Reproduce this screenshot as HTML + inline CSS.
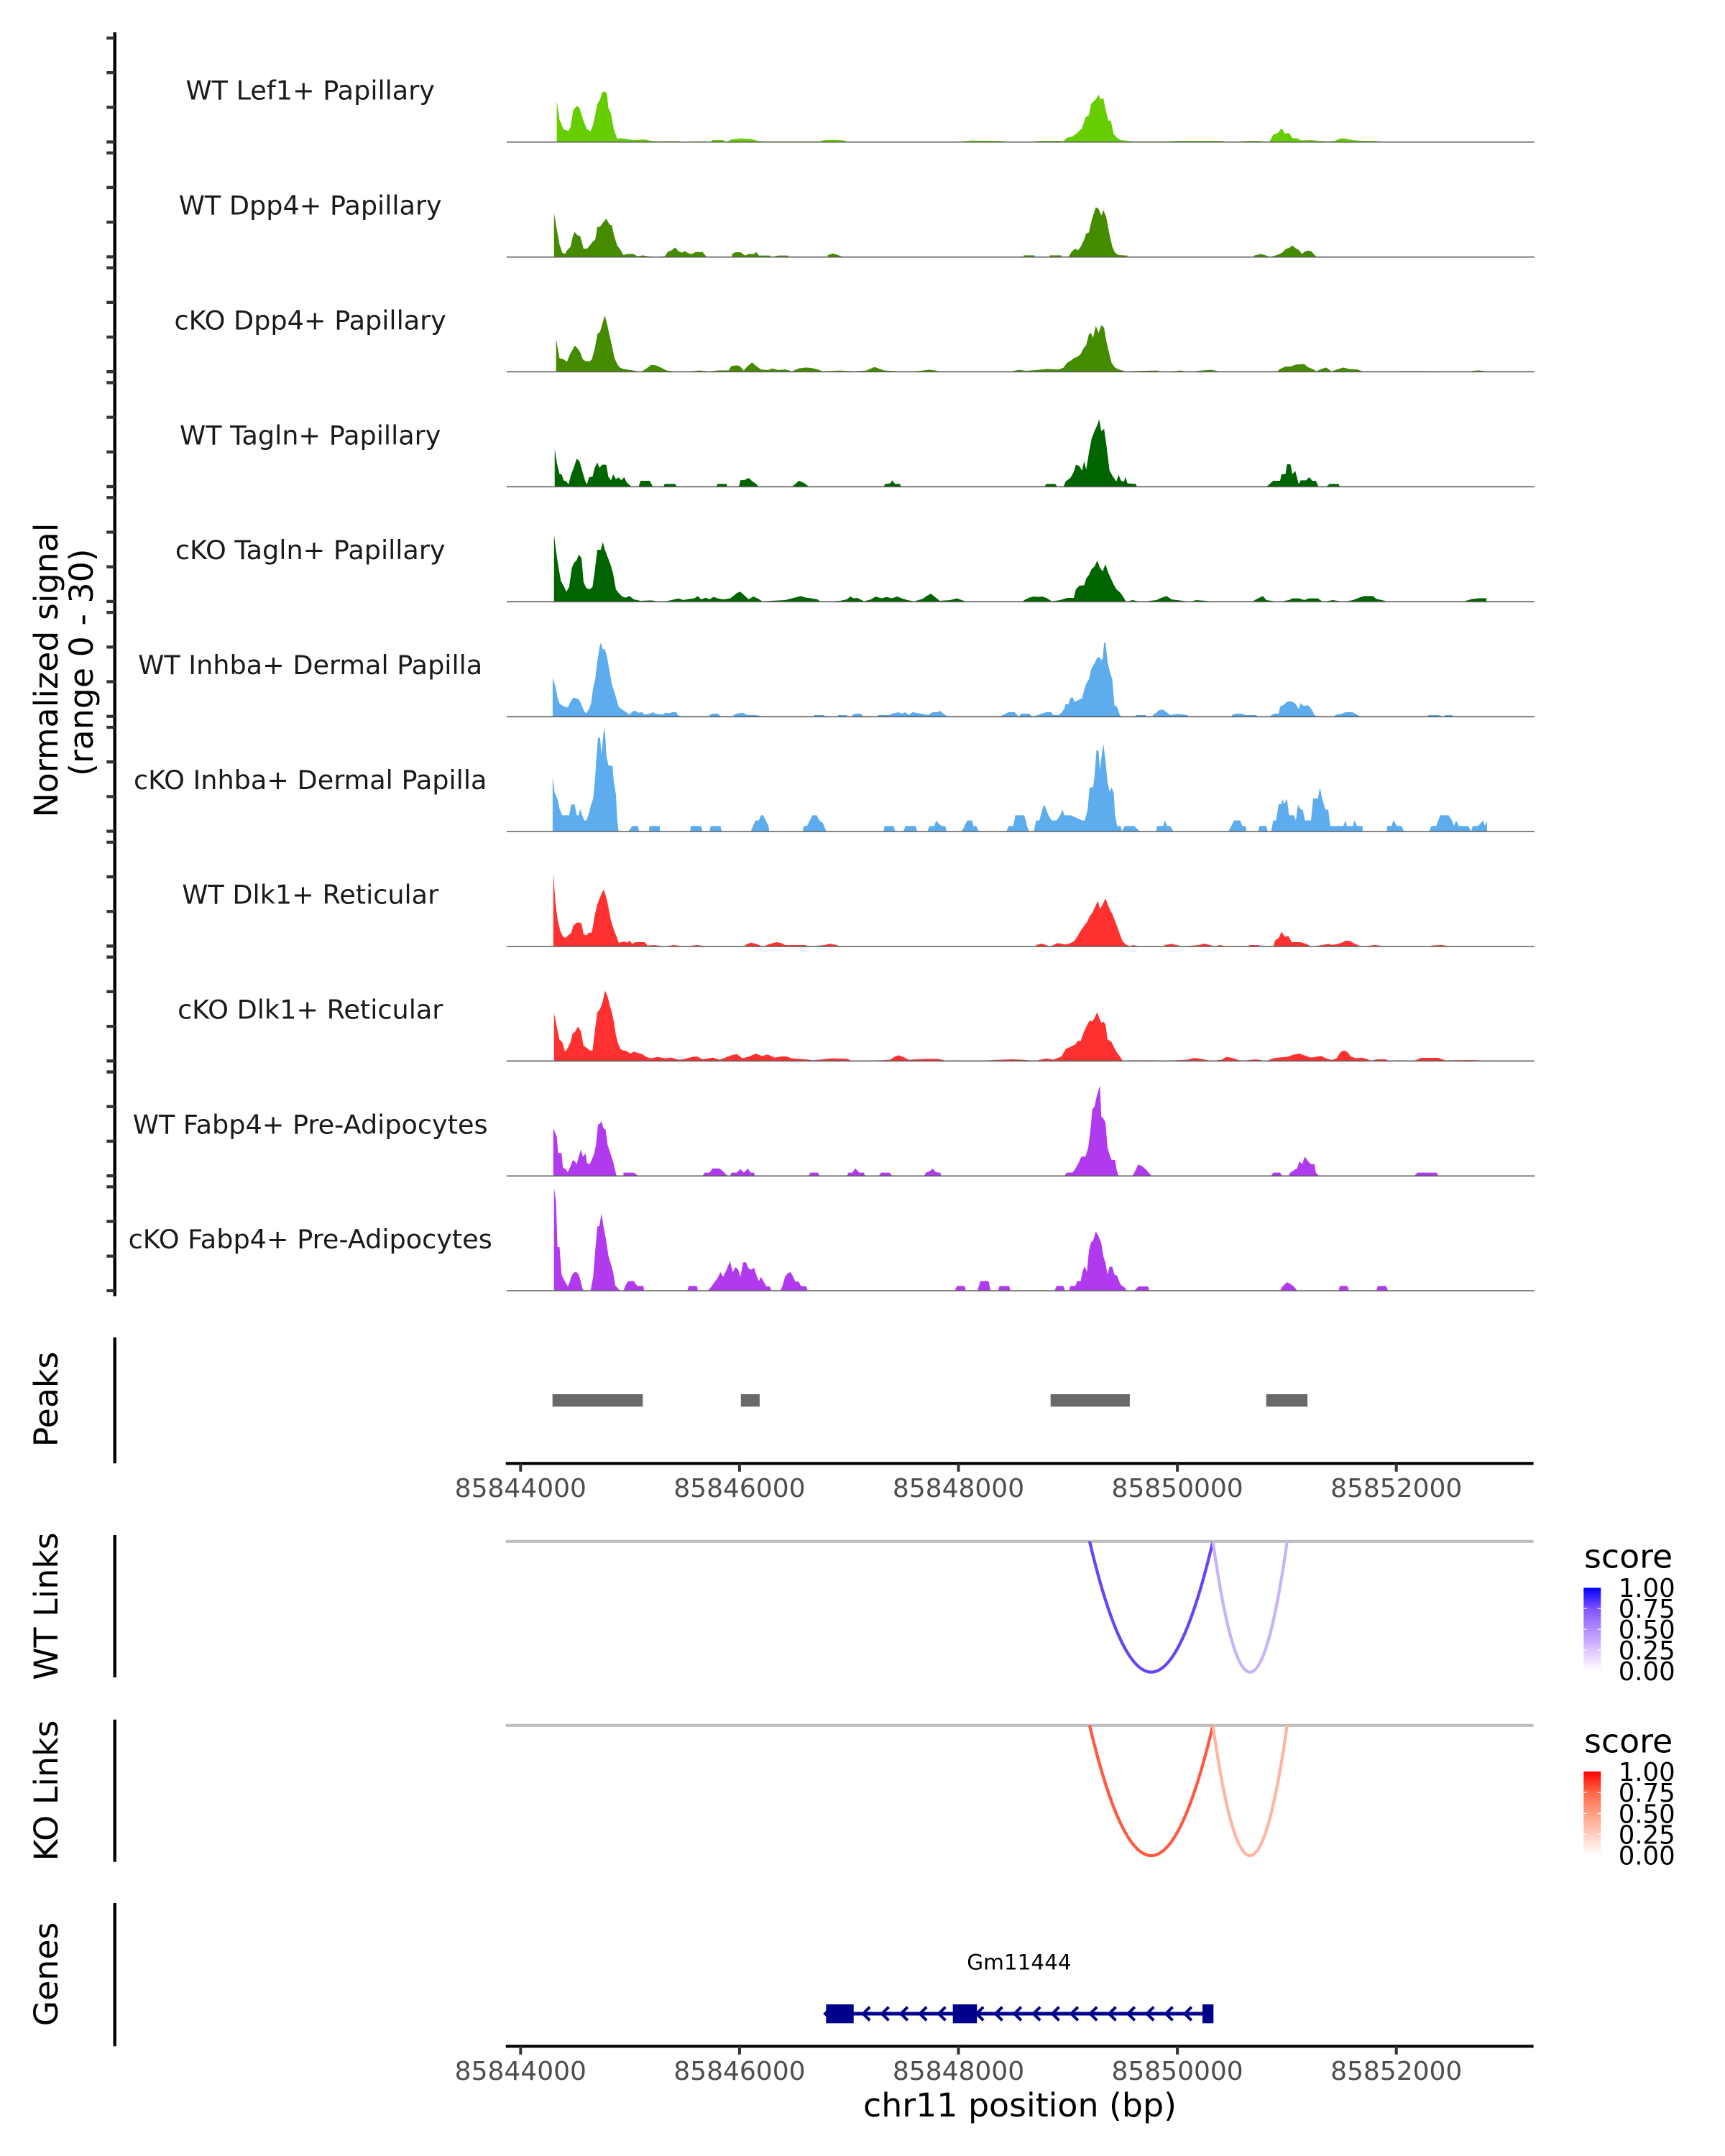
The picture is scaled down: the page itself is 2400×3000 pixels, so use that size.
<!DOCTYPE html>
<html>
<head>
<meta charset="utf-8">
<style>
html,body{margin:0;padding:0;background:#ffffff;}
svg{display:block;}
text{font-family:"DejaVu Sans","Liberation Sans",sans-serif;}
</style>
</head>
<body>
<svg xmlns="http://www.w3.org/2000/svg" width="2400" height="3000" viewBox="0 0 2400 3000">
<defs>
<linearGradient id="gb" x1="0" y1="1" x2="0" y2="0">
<stop offset="0" stop-color="#ffffff"/>
<stop offset="0.25" stop-color="#dcc5ff"/>
<stop offset="0.5" stop-color="#b38aff"/>
<stop offset="0.75" stop-color="#7e52ff"/>
<stop offset="1" stop-color="#0000ff"/>
</linearGradient>
<linearGradient id="gr" x1="0" y1="1" x2="0" y2="0">
<stop offset="0" stop-color="#ffffff"/>
<stop offset="0.25" stop-color="#ffcfbf"/>
<stop offset="0.5" stop-color="#ff9e81"/>
<stop offset="0.75" stop-color="#ff6846"/>
<stop offset="1" stop-color="#ff0000"/>
</linearGradient>
</defs>
<rect x="0" y="0" width="2400" height="3000" fill="#ffffff"/>

<!-- Y axis title -->
<text transform="translate(80,932.5) rotate(-90)" text-anchor="middle" font-size="45.83" fill="#000">Normalized signal</text>
<text transform="translate(129,921.7) rotate(-90)" text-anchor="middle" font-size="45.83" fill="#000">(range 0 - 30)</text>

<!-- main y axis -->
<line x1="159.7" y1="45" x2="159.7" y2="1803.5" stroke="#000" stroke-width="4.4"/>
<path stroke="#333333" stroke-width="4.3" fill="none" d="M148.3,197.5H159.7M148.3,149.3H159.7M148.3,101.1H159.7M148.3,52.9H159.7
M148.3,357.35H159.7M148.3,309.15H159.7M148.3,260.95H159.7M148.3,212.75H159.7
M148.3,517.2H159.7M148.3,469H159.7M148.3,420.8H159.7M148.3,372.6H159.7
M148.3,677.05H159.7M148.3,628.85H159.7M148.3,580.65H159.7M148.3,532.45H159.7
M148.3,836.9H159.7M148.3,788.7H159.7M148.3,740.5H159.7M148.3,692.3H159.7
M148.3,996.75H159.7M148.3,948.55H159.7M148.3,900.35H159.7M148.3,852.15H159.7
M148.3,1156.6H159.7M148.3,1108.4H159.7M148.3,1060.2H159.7M148.3,1012H159.7
M148.3,1316.45H159.7M148.3,1268.25H159.7M148.3,1220.05H159.7M148.3,1171.85H159.7
M148.3,1476.3H159.7M148.3,1428.1H159.7M148.3,1379.9H159.7M148.3,1331.7H159.7
M148.3,1636.15H159.7M148.3,1587.95H159.7M148.3,1539.75H159.7M148.3,1491.55H159.7
M148.3,1796H159.7M148.3,1747.8H159.7M148.3,1699.6H159.7M148.3,1651.4H159.7"/>

<!-- strip labels -->
<g font-size="36.6" fill="#1a1a1a" text-anchor="middle">
<text x="431.7" y="138.7">WT Lef1+ Papillary</text>
<text x="431.7" y="298.55">WT Dpp4+ Papillary</text>
<text x="431.7" y="458.4">cKO Dpp4+ Papillary</text>
<text x="431.7" y="618.25">WT Tagln+ Papillary</text>
<text x="431.7" y="778.1">cKO Tagln+ Papillary</text>
<text x="431.7" y="937.95">WT Inhba+ Dermal Papilla</text>
<text x="431.7" y="1097.8">cKO Inhba+ Dermal Papilla</text>
<text x="431.7" y="1257.65">WT Dlk1+ Reticular</text>
<text x="431.7" y="1417.5">cKO Dlk1+ Reticular</text>
<text x="431.7" y="1577.35">WT Fabp4+ Pre-Adipocytes</text>
<text x="431.7" y="1737.2">cKO Fabp4+ Pre-Adipocytes</text>
</g>

<!-- coverage tracks 1-2 -->
<g transform="matrix(0.95663,0,0,0.333333,700,80)">
<path fill="#66CD00" d="M78,353 78,182 82,260 88,300 95,307 98,290 102,220 107,202 111,210 117,265 122,300 127,308 131,280 137,195 141,175 144,145 148,142 151,150 153,210 157,235 161,300 166,340 170,337 180,340 190,345 205,342 215,348 225,350 240,349 255,349 262,353 275,350 295,350 300,353 305,345 320,345 325,353 332,342 345,338 360,340 370,348 380,350 460,350 465,346 480,344 495,346 500,351 540,351 560,351 580,351 590,353 605,351 625,351 630,353 670,350 680,347 720,348 735,351 770,351 780,348 810,348 815,350 820,335 828,330 835,315 842,295 847,250 852,240 855,195 858,185 862,175 866,155 869,175 873,170 876,215 880,262 884,265 888,320 893,335 898,345 905,347 915,350 950,350 965,350 985,348 1045,348 1055,353 1085,348 1100,348 1112,353 1115,350 1120,322 1127,315 1132,295 1137,318 1143,315 1148,337 1155,337 1160,346 1175,345 1185,348 1200,350 1210,348 1218,338 1225,338 1235,345 1250,348 1265,348 1285,352 1290,353 1355,351 1380,351 1385,353 1405,351 1430,351 1430,353 Z"/>
<path fill="#458B00" d="M74,833 74,650 77,700 82,780 86,815 90,820 93,805 98,790 101,750 104,728 108,742 112,745 117,798 122,798 126,785 130,770 134,760 137,708 141,706 145,690 150,673 155,698 158,700 162,750 166,785 170,800 175,825 180,820 190,820 195,830 203,826 218,833 235,830 240,810 245,805 250,793 255,808 260,815 264,808 270,818 275,820 280,812 290,812 296,833 333,833 333,820 338,813 345,813 352,827 357,820 365,820 368,812 372,827 388,827 390,833 400,827 415,827 415,833 472,833 472,825 480,818 487,825 495,833 757,833 757,826 773,826 773,833 795,833 795,826 812,826 812,833 822,833 827,810 832,798 836,805 840,790 845,760 848,735 852,730 855,690 858,660 862,625 866,632 870,660 873,637 877,665 882,740 886,790 890,815 895,825 908,827 908,833 1092,833 1092,827 1102,820 1110,827 1115,833 1125,825 1133,815 1138,800 1143,795 1148,785 1152,795 1157,803 1162,820 1165,812 1170,806 1175,808 1183,833 Z"/>
</g>

<!-- coverage tracks 3-5 -->
<g transform="matrix(0.95663,0,0,0.333333,700,370)">
<path fill="#458B00" d="M77,442 77,305 82,385 88,390 93,400 97,370 100,355 104,333 108,343 112,360 116,390 120,398 126,398 129,390 133,350 137,285 141,275 145,235 148,207 151,240 154,280 158,330 162,385 166,410 170,425 175,430 190,437 200,442 205,435 210,425 215,413 222,415 230,425 238,437 250,440 265,442 285,437 300,440 315,436 328,436 332,418 340,415 345,420 350,437 355,420 362,403 368,418 375,432 385,435 392,428 400,435 410,432 420,440 430,428 440,424 448,426 455,430 465,440 490,437 510,440 528,437 540,422 548,430 555,437 590,442 610,437 620,433 635,440 680,440 725,440 740,440 750,434 760,438 775,435 790,430 808,432 815,425 820,405 826,395 830,385 835,380 840,368 844,345 848,330 852,285 855,280 858,300 862,250 866,280 870,248 874,258 877,310 881,360 885,405 890,425 896,433 905,440 950,437 965,442 985,437 1000,442 1015,437 1030,434 1045,442 1125,442 1130,430 1138,420 1145,420 1153,412 1165,409 1170,422 1177,430 1183,440 1190,430 1197,424 1205,440 1213,432 1222,424 1230,430 1242,432 1252,442 1305,439 1340,439 1405,440 1418,436 1430,440 1430,442 Z"/>
<path fill="#006400" d="M75,922 75,763 78,820 82,868 85,870 88,895 92,900 95,912 99,870 103,840 107,805 111,815 115,855 119,895 122,912 125,882 130,880 133,845 137,820 140,843 144,830 150,830 153,880 157,895 160,870 164,890 168,883 172,895 176,882 180,905 187,922 197,922 200,897 213,897 218,922 233,922 235,910 250,910 253,922 310,922 312,910 325,910 326,922 343,922 345,895 352,893 357,885 362,898 368,910 372,922 420,922 425,910 430,897 437,905 445,922 553,922 556,910 563,908 566,895 570,910 577,910 579,922 787,922 790,910 803,910 806,922 815,922 818,900 825,885 830,860 833,830 838,835 842,855 845,815 848,850 852,780 856,720 860,690 864,665 867,640 870,690 874,680 877,740 882,855 887,880 892,900 895,872 899,898 903,900 905,880 908,908 920,910 922,922 1110,922 1115,910 1120,897 1130,897 1132,870 1138,868 1140,828 1145,828 1148,870 1152,855 1157,910 1160,895 1168,895 1172,882 1177,897 1182,897 1186,922 1197,922 1202,910 1215,910 1217,922 Z"/>
<path fill="#006400" d="M74,1402 74,1120 77,1190 80,1250 84,1315 88,1335 92,1360 96,1340 100,1260 103,1240 107,1228 110,1205 114,1220 117,1320 121,1345 126,1350 130,1340 133,1280 137,1185 142,1185 145,1153 148,1185 152,1215 156,1245 160,1285 164,1350 168,1365 173,1380 178,1385 184,1378 190,1392 200,1398 215,1396 232,1402 245,1395 255,1388 262,1395 270,1390 278,1388 283,1378 288,1392 295,1385 300,1392 306,1382 312,1388 320,1392 330,1388 335,1378 340,1365 345,1360 352,1378 357,1392 364,1380 370,1388 377,1400 410,1395 420,1388 433,1378 440,1385 447,1387 457,1392 462,1402 490,1398 500,1392 505,1380 510,1388 515,1386 525,1400 535,1392 542,1380 550,1388 558,1382 565,1388 573,1380 580,1388 588,1395 598,1400 610,1390 616,1378 622,1368 628,1382 635,1398 650,1395 660,1388 672,1400 680,1402 755,1402 758,1395 765,1385 772,1380 778,1382 784,1380 790,1386 798,1400 810,1395 820,1386 830,1386 833,1350 838,1335 845,1333 848,1305 852,1290 856,1265 860,1255 864,1230 868,1260 872,1275 876,1245 880,1280 884,1305 888,1330 892,1350 897,1362 902,1382 906,1402 915,1395 928,1402 950,1395 958,1385 965,1378 972,1392 1000,1402 1008,1395 1040,1402 1090,1402 1093,1395 1100,1385 1105,1378 1110,1395 1128,1402 1143,1395 1148,1388 1158,1388 1165,1395 1172,1388 1185,1388 1192,1402 1207,1395 1222,1402 1236,1395 1245,1385 1252,1378 1265,1378 1270,1390 1278,1395 1288,1402 1400,1402 1400,1398 1410,1390 1420,1387 1430,1387 1430,1402 Z"/>
</g>

<!-- coverage tracks 6-8 -->
<g transform="matrix(0.95663,0,0,0.333333,700,855)">
<path fill="#5CACEE" d="M72,427 72,265 76,300 79,345 82,372 86,380 90,385 94,388 97,370 100,355 103,347 107,350 111,358 115,385 118,405 121,412 125,395 128,370 131,305 134,270 137,195 140,140 142,117 145,145 148,145 151,175 155,240 158,290 162,325 165,355 168,385 172,395 176,402 180,410 184,418 188,405 192,402 197,410 202,408 206,418 212,415 218,408 222,415 232,418 236,410 242,412 246,408 252,408 254,420 260,427 300,427 300,420 305,414 312,414 318,427 335,427 335,420 340,414 348,410 355,420 368,420 380,427 452,427 452,420 467,420 467,427 487,427 487,420 500,420 500,427 508,427 508,420 512,414 520,414 524,427 545,427 545,420 560,420 568,413 575,408 580,414 585,408 590,420 595,408 608,414 618,420 625,408 632,408 635,402 640,414 647,427 722,427 724,424 735,408 744,408 750,427 753,414 765,414 770,427 782,415 790,408 797,408 800,420 808,420 812,410 816,395 818,375 822,375 825,350 828,345 831,365 835,360 838,355 842,350 845,315 848,290 852,270 855,230 858,215 861,200 864,180 867,178 870,190 872,185 874,120 876,115 879,195 882,235 886,272 889,380 893,385 897,420 900,427 920,427 920,420 935,420 935,427 945,427 945,420 950,410 955,398 960,398 965,408 970,420 982,415 995,420 997,427 1060,427 1060,420 1065,414 1075,414 1080,420 1095,420 1098,427 1117,427 1117,420 1122,414 1128,414 1130,385 1135,378 1140,365 1145,362 1150,368 1153,375 1157,395 1160,370 1163,380 1166,382 1170,378 1173,385 1177,402 1180,420 1185,427 1210,427 1210,420 1220,414 1225,408 1235,408 1240,415 1247,427 1345,427 1345,420 1360,420 1368,427 1370,420 1380,420 1383,427 Z"/>
<path fill="#5CACEE" d="M72,906 72,680 75,745 79,770 82,810 86,838 96,838 99,793 104,793 107,838 110,838 112,812 115,838 118,860 121,860 124,838 128,793 131,768 134,675 136,585 138,515 141,515 143,585 146,495 148,475 150,585 153,630 159,632 161,700 164,750 166,860 168,906 182,906 188,883 196,883 198,906 212,906 213,883 228,883 228,906 272,906 273,883 288,883 290,906 300,906 302,883 316,883 318,906 360,906 367,860 372,860 375,838 378,838 382,860 386,883 387,906 436,906 437,883 442,883 446,860 450,838 456,838 460,860 465,870 470,906 553,906 555,883 568,883 570,906 582,906 585,883 600,883 602,906 617,906 620,883 627,883 630,860 634,875 638,883 643,883 645,906 667,906 675,860 682,860 684,883 688,883 692,906 732,906 735,883 742,883 745,838 758,838 762,883 765,906 772,906 775,860 780,860 784,815 787,793 790,815 793,838 798,860 805,860 810,838 814,815 816,838 825,838 835,850 842,860 846,860 850,815 853,722 858,722 860,680 863,565 866,570 868,650 870,600 873,540 876,610 879,700 882,740 885,722 888,745 890,838 893,883 898,883 900,906 904,883 918,883 926,906 950,906 951,883 960,883 962,860 966,883 970,883 975,906 1055,906 1063,860 1072,860 1075,883 1080,883 1081,906 1098,906 1100,883 1110,883 1112,906 1117,906 1120,860 1124,860 1128,792 1132,792 1133,770 1136,792 1140,770 1143,838 1150,838 1153,860 1156,793 1160,815 1163,815 1166,860 1175,860 1178,768 1185,768 1188,722 1191,768 1196,815 1200,815 1203,883 1222,883 1225,860 1227,883 1236,883 1238,860 1242,883 1250,883 1250,906 1285,906 1286,883 1292,883 1295,860 1300,883 1307,883 1310,906 1347,906 1350,883 1357,883 1363,838 1375,838 1380,860 1383,883 1386,860 1390,883 1404,883 1408,906 1410,883 1418,883 1425,860 1428,883 1431,860 1431,906 Z"/>
<path fill="#FF3030" d="M73,1386 73,1080 76,1200 79,1270 83,1320 87,1345 91,1350 95,1338 99,1330 102,1300 106,1288 110,1285 114,1290 117,1335 121,1340 125,1328 129,1328 133,1260 137,1210 141,1180 146,1148 150,1180 153,1220 157,1280 161,1315 165,1345 168,1370 172,1368 176,1365 180,1370 184,1362 188,1375 192,1368 206,1368 210,1382 220,1380 235,1386 248,1380 265,1386 282,1380 298,1386 352,1386 352,1380 360,1370 368,1375 378,1386 388,1375 398,1368 405,1372 410,1380 440,1380 445,1386 468,1380 475,1374 485,1380 490,1386 775,1386 775,1380 783,1374 790,1380 795,1386 800,1380 806,1372 812,1374 818,1378 825,1372 830,1365 835,1345 840,1320 845,1300 850,1280 853,1260 857,1245 861,1220 865,1195 868,1230 872,1210 876,1185 880,1215 883,1235 886,1250 890,1280 894,1310 897,1335 901,1365 906,1378 912,1386 915,1380 928,1386 962,1386 962,1380 972,1375 980,1380 988,1386 1012,1380 1020,1374 1028,1380 1035,1386 1042,1380 1055,1386 1085,1386 1085,1380 1100,1380 1100,1386 1120,1386 1123,1360 1128,1350 1132,1325 1137,1345 1142,1342 1147,1368 1160,1368 1168,1375 1175,1386 1192,1380 1200,1375 1206,1380 1213,1376 1220,1370 1225,1362 1232,1363 1237,1372 1248,1386 1268,1380 1285,1386 1350,1386 1350,1382 1365,1380 1380,1386 Z"/>
</g>

<!-- coverage tracks 9-11 -->
<g transform="matrix(0.95663,0,0,0.333333,700,1340)">
<path fill="#FF3030" d="M74,409 74,208 78,265 82,320 86,330 90,370 94,355 98,330 101,295 105,285 109,265 113,285 117,345 122,355 126,365 130,365 134,270 137,205 141,192 145,160 148,115 152,140 155,175 158,205 161,245 164,300 167,335 171,360 175,365 180,368 185,378 190,370 196,375 202,380 208,392 215,398 225,392 235,398 245,395 255,404 265,400 275,392 282,390 290,402 305,395 315,404 332,385 340,380 348,398 358,390 368,378 376,388 385,382 395,395 405,390 412,390 420,398 440,402 450,406 480,398 500,400 508,409 540,407 563,404 570,390 575,385 582,392 590,404 600,402 615,400 632,400 645,408 660,406 680,408 700,407 740,402 755,404 775,408 790,398 800,404 808,395 812,390 818,360 825,350 832,340 836,325 840,325 845,285 850,255 853,240 857,245 860,230 864,205 867,230 870,250 873,245 876,255 879,318 882,325 885,330 889,355 893,375 897,390 901,408 910,406 947,406 960,408 995,404 1005,396 1018,402 1030,408 1045,404 1052,392 1060,396 1068,404 1075,408 1095,402 1110,409 1120,398 1130,394 1140,392 1150,382 1158,378 1165,385 1175,395 1190,388 1196,397 1205,405 1212,398 1218,372 1223,365 1228,372 1233,390 1240,398 1248,395 1256,400 1262,409 1270,402 1283,402 1290,409 1300,406 1313,406 1325,408 1335,396 1360,396 1370,406 1405,405 1420,406 1420,409 Z"/>
<path fill="#B23AEE" d="M73,889 73,690 78,725 80,793 85,793 87,855 91,860 94,873 98,848 101,825 104,825 107,840 110,808 113,778 116,808 120,795 122,835 126,840 129,820 132,800 135,760 138,675 141,670 143,660 146,690 149,695 152,760 156,793 160,830 165,889 175,889 175,875 190,875 197,889 290,889 293,875 300,875 305,857 310,858 315,858 320,870 325,885 330,889 332,875 340,875 345,860 350,875 356,858 360,875 365,875 366,889 444,889 447,875 458,875 460,889 500,889 502,875 508,875 512,857 518,875 525,875 526,889 546,889 550,875 562,875 566,889 612,889 615,875 620,870 625,858 628,870 632,875 636,875 637,889 816,889 820,875 828,875 832,860 836,840 841,808 847,808 851,770 854,700 857,610 860,600 863,560 866,530 868,513 870,640 873,650 876,665 879,770 882,800 885,822 890,822 892,860 895,889 915,889 918,875 924,840 930,850 935,862 942,885 944,889 1117,889 1120,875 1130,875 1133,889 1142,889 1145,875 1150,865 1155,857 1158,827 1162,840 1166,808 1170,825 1175,840 1180,840 1182,875 1187,889 1325,889 1330,875 1358,875 1360,889 Z"/>
<path fill="#B23AEE" d="M74,1368 74,938 77,1000 79,1185 82,1185 85,1300 88,1320 91,1335 94,1350 97,1330 99,1310 102,1295 106,1288 110,1300 113,1330 115,1355 117,1368 127,1368 131,1310 134,1200 137,1100 140,1098 143,1045 146,1100 150,1160 153,1220 157,1260 160,1290 163,1345 166,1355 170,1368 175,1368 178,1345 182,1328 190,1328 195,1348 204,1348 205,1368 268,1368 270,1348 282,1348 283,1368 298,1368 303,1350 308,1330 312,1315 316,1290 320,1310 325,1280 330,1245 334,1290 338,1270 342,1280 345,1310 349,1250 353,1248 357,1275 361,1280 365,1272 368,1300 372,1328 375,1310 379,1330 383,1350 388,1350 390,1368 403,1368 406,1350 410,1310 414,1295 418,1290 421,1305 425,1330 430,1330 433,1348 441,1350 443,1368 657,1368 660,1348 671,1348 673,1368 690,1368 694,1328 706,1328 709,1368 720,1368 722,1348 736,1348 738,1368 802,1368 805,1348 815,1348 817,1368 823,1368 825,1348 832,1348 835,1328 840,1328 843,1285 846,1265 849,1290 852,1200 855,1165 858,1160 862,1120 866,1140 870,1170 873,1225 876,1250 879,1300 882,1268 886,1268 889,1300 893,1305 896,1330 899,1345 904,1355 907,1368 918,1368 924,1350 938,1350 940,1368 1130,1368 1133,1352 1140,1332 1145,1340 1150,1350 1155,1368 1215,1368 1217,1348 1228,1348 1230,1368 1270,1368 1272,1348 1284,1348 1287,1368 Z"/>
</g>

<!-- baselines -->
<path stroke="#5e5e5e" stroke-width="1.6" fill="none" d="M704.8,197.67H2135M704.8,357.67H2135M704.8,517.33H2135M704.8,677.33H2135M704.8,837.33H2135M704.8,997.33H2135M704.8,1157H2135M704.8,1317H2135M704.8,1476.33H2135M704.8,1636.33H2135M704.8,1796H2135"/>

<!-- Peaks panel -->
<text transform="translate(80,1947) rotate(-90)" text-anchor="middle" font-size="45.83" fill="#000">Peaks</text>
<line x1="159.7" y1="1861" x2="159.7" y2="2036.3" stroke="#000" stroke-width="4.4"/>
<g fill="#696969">
<rect x="768.7" y="1940" width="125.6" height="17.3"/>
<rect x="1030.8" y="1940" width="26.1" height="17.3"/>
<rect x="1461.7" y="1940" width="110.2" height="17.3"/>
<rect x="1761.7" y="1940" width="57.4" height="17.3"/>
</g>
<line x1="703.7" y1="2036.3" x2="2133.6" y2="2036.3" stroke="#000" stroke-width="4.2"/>
<path stroke="#333333" stroke-width="4" d="M724.3,2036.3V2047.8M1028.9,2036.3V2047.8M1333.5,2036.3V2047.8M1638.1,2036.3V2047.8M1942.7,2036.3V2047.8"/>
<g font-size="36" fill="#4d4d4d" text-anchor="middle">
<text x="724.3" y="2083">85844000</text>
<text x="1028.9" y="2083">85846000</text>
<text x="1333.5" y="2083">85848000</text>
<text x="1638.1" y="2083">85850000</text>
<text x="1942.7" y="2083">85852000</text>
</g>

<!-- WT Links -->
<text transform="translate(80,2235) rotate(-90)" text-anchor="middle" font-size="45.83" fill="#000">WT Links</text>
<line x1="159.7" y1="2136" x2="159.7" y2="2334" stroke="#000" stroke-width="4.4"/>
<line x1="703.7" y1="2144.8" x2="2133.6" y2="2144.8" stroke="#bebebe" stroke-width="4.2"/>
<path d="M1516,2144.8 Q1601.75,2508.6 1687.5,2144.8" fill="none" stroke="#6a43f8" stroke-width="4.3"/>
<path d="M1687.5,2144.8 Q1739.15,2508.6 1790.8,2144.8" fill="none" stroke="#c9b3f9" stroke-width="4.3"/>

<!-- KO Links -->
<text transform="translate(80,2491.5) rotate(-90)" text-anchor="middle" font-size="45.83" fill="#000">KO Links</text>
<line x1="159.7" y1="2392.7" x2="159.7" y2="2590.7" stroke="#000" stroke-width="4.4"/>
<line x1="703.7" y1="2400.8" x2="2133.6" y2="2400.8" stroke="#bebebe" stroke-width="4.2"/>
<path d="M1516,2400.8 Q1601.75,2763.2 1687.5,2400.8" fill="none" stroke="#ff5a40" stroke-width="4.3"/>
<path d="M1687.5,2400.8 Q1739.15,2763.2 1790.8,2400.8" fill="none" stroke="#ffb5a0" stroke-width="4.3"/>

<!-- Legends -->
<text x="2204" y="2181.7" font-size="45.83" fill="#000">score</text>
<rect x="2203.3" y="2209.3" width="24" height="115.7" fill="url(#gb)"/>
<path stroke="#ffffff" stroke-width="1.2" d="M2203.3,2238.2h4.8M2222.5,2238.2h4.8M2203.3,2267.2h4.8M2222.5,2267.2h4.8M2203.3,2296.1h4.8M2222.5,2296.1h4.8"/>
<g font-size="35.5" fill="#000">
<text x="2251.7" y="2222.2">1.00</text>
<text x="2251.7" y="2251.1">0.75</text>
<text x="2251.7" y="2280.1">0.50</text>
<text x="2251.7" y="2309">0.25</text>
<text x="2251.7" y="2337.9">0.00</text>
</g>
<text x="2204" y="2438.3" font-size="45.83" fill="#000">score</text>
<rect x="2203.3" y="2465" width="24" height="116.7" fill="url(#gr)"/>
<path stroke="#ffffff" stroke-width="1.2" d="M2203.3,2494.2h4.8M2222.5,2494.2h4.8M2203.3,2523.4h4.8M2222.5,2523.4h4.8M2203.3,2552.5h4.8M2222.5,2552.5h4.8"/>
<g font-size="35.5" fill="#000">
<text x="2251.7" y="2477.9">1.00</text>
<text x="2251.7" y="2507.1">0.75</text>
<text x="2251.7" y="2536.3">0.50</text>
<text x="2251.7" y="2565.4">0.25</text>
<text x="2251.7" y="2594.6">0.00</text>
</g>

<!-- Genes -->
<text transform="translate(80,2747) rotate(-90)" text-anchor="middle" font-size="45.83" fill="#000">Genes</text>
<line x1="159.7" y1="2648" x2="159.7" y2="2847.3" stroke="#000" stroke-width="4.4"/>
<text x="1418" y="2740.7" font-size="29.5" fill="#000" text-anchor="middle">Gm11444</text>
<line x1="1148" y1="2802" x2="1688" y2="2802" stroke="#00008b" stroke-width="5"/>
<path fill="none" stroke="#00008b" stroke-width="4" stroke-linejoin="miter" d="M1157.5,2792.7L1148,2802L1157.5,2811.3
M1183.8,2792.7L1174.3,2802L1183.8,2811.3
M1210.2,2792.7L1200.7,2802L1210.2,2811.3
M1236.5,2792.7L1227,2802L1236.5,2811.3
M1262.8,2792.7L1253.3,2802L1262.8,2811.3
M1289.2,2792.7L1279.7,2802L1289.2,2811.3
M1315.5,2792.7L1306,2802L1315.5,2811.3
M1341.8,2792.7L1332.3,2802L1341.8,2811.3
M1368.2,2792.7L1358.7,2802L1368.2,2811.3
M1394.5,2792.7L1385,2802L1394.5,2811.3
M1420.8,2792.7L1411.3,2802L1420.8,2811.3
M1447.2,2792.7L1437.7,2802L1447.2,2811.3
M1473.5,2792.7L1464,2802L1473.5,2811.3
M1499.8,2792.7L1490.3,2802L1499.8,2811.3
M1526.2,2792.7L1516.7,2802L1526.2,2811.3
M1552.5,2792.7L1543,2802L1552.5,2811.3
M1578.8,2792.7L1569.3,2802L1578.8,2811.3
M1605.2,2792.7L1595.7,2802L1605.2,2811.3
M1631.5,2792.7L1622,2802L1631.5,2811.3
M1657.8,2792.7L1648.3,2802L1657.8,2811.3"/>
<g fill="#00008b">
<rect x="1149.3" y="2789" width="38.4" height="26.3"/>
<rect x="1325.7" y="2789" width="33.6" height="26.3"/>
<rect x="1673" y="2789" width="15.3" height="26.3"/>
</g>
<line x1="703.7" y1="2847.3" x2="2133.6" y2="2847.3" stroke="#000" stroke-width="4.2"/>
<path stroke="#333333" stroke-width="4" d="M724.3,2847.3V2858.8M1028.9,2847.3V2858.8M1333.5,2847.3V2858.8M1638.1,2847.3V2858.8M1942.7,2847.3V2858.8"/>
<g font-size="36" fill="#4d4d4d" text-anchor="middle">
<text x="724.3" y="2894">85844000</text>
<text x="1028.9" y="2894">85846000</text>
<text x="1333.5" y="2894">85848000</text>
<text x="1638.1" y="2894">85850000</text>
<text x="1942.7" y="2894">85852000</text>
</g>
<text x="1419" y="2945" font-size="45.83" fill="#000" text-anchor="middle">chr11 position (bp)</text>
</svg>
</body>
</html>
